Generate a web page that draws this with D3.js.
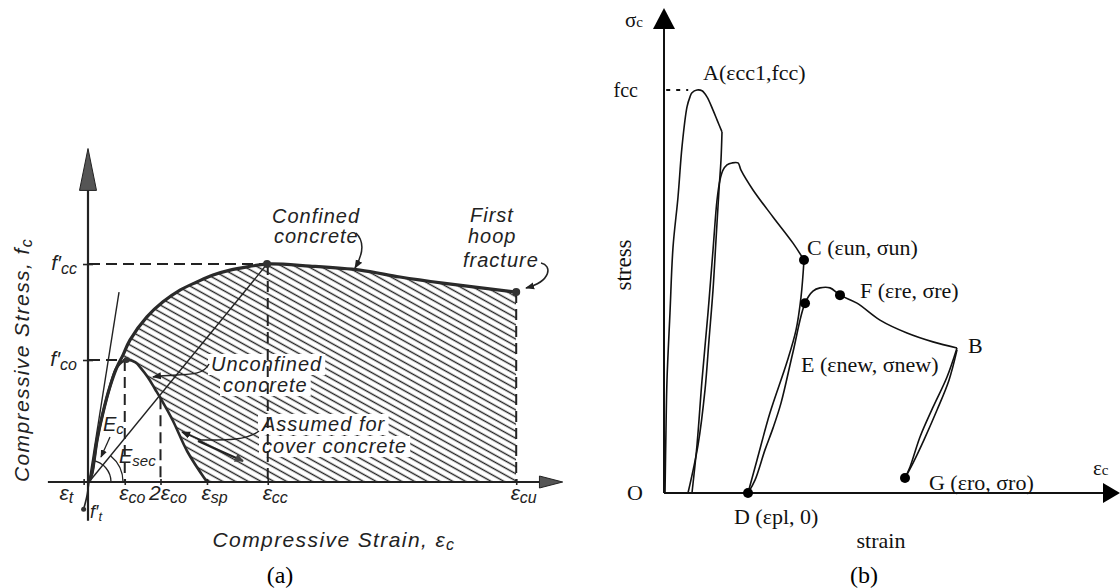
<!DOCTYPE html>
<html><head><meta charset="utf-8">
<script src="https://cdn.jsdelivr.net/npm/d3@7/dist/d3.min.js"></script>
<style>html,body{margin:0;padding:0;background:#fff}svg{display:block}</style>
</head><body>
<svg id="chart" width="1120" height="588"></svg>
<script>
// ================= Panel (a) data =================
const aTickLabels = ["ε_t", "ε_co", "2ε_co", "ε_sp", "ε_cc", "ε_cu"];
const aTickValues = [-0.0003, 0.002, 0.004, 0.0066, 0.01, 0.0239];
const aStressLabels = ["f′_cc", "f′_co"];
const aStressValues = [53.6, 30];

const confinedStrain = [0, 0.00017, 0.00045, 0.00078, 0.00117, 0.00157, 0.0019, 0.00229, 0.00324, 0.00414, 0.00509, 0.00604, 0.00694, 0.00789, 0.00884, 0.00996, 0.01236, 0.01516, 0.0174, 0.0198, 0.0239];
const confinedStress = [0, 2.2, 10.3, 17.0, 23.4, 28.3, 31.2, 34.9, 40.6, 44.3, 47.2, 49.2, 50.9, 52.1, 52.9, 53.6, 53.1, 52.1, 50.4, 48.9, 46.7];

const unconfinedStrain = [0, 0.00017, 0.00045, 0.00078, 0.00117, 0.00157, 0.0021, 0.0026, 0.0029, 0.0033, 0.0037, 0.0040, 0.0047, 0.0055, 0.0066];
const unconfinedStress = [0, 2.2, 10.3, 17.0, 23.4, 28.3, 30.0, 29.4, 28.0, 25.7, 22.8, 20.6, 15.0, 7.5, 0];

const ecLineStrain = [0, 0.00168];
const ecLineStress = [0, 46.7];
const secLineStrain = [0, 0.00996];
const secLineStress = [0, 53.6];
const tensileStrain = [0, -0.00012, -0.0003];
const tensileStress = [0, -3.5, -6.7];

// ================= Panel (b) data =================
const loadAStrain = [0.023, 0.045, 0.068, 0.136, 0.205, 0.318, 0.409, 0.523, 0.591, 0.636, 0.75, 0.864, 0.977, 1.114, 1.205, 1.318];
const loadAStress = [0, 15.6, 28.0, 44.7, 61.0, 73.4, 85.9, 95.8, 98.3, 99.3, 100, 99.8, 98.3, 95.0, 92.6, 89.6];
const unloadAStrain = [1.318, 1.295, 1.25, 1.182, 1.114, 1.023, 0.932, 0.773, 0.545];
const unloadAStress = [89.6, 82.6, 75.2, 62.8, 50.4, 38.0, 25.6, 11.9, 0];
const reload2Strain = [0.636, 0.75, 0.864, 1.0, 1.114, 1.205, 1.273, 1.341, 1.432, 1.545, 1.682, 1.75, 2.023, 2.477, 2.932, 3.182];
const reload2Stress = [0, 11.9, 28.0, 44.7, 60.3, 72.7, 77.7, 80.1, 81.4, 81.9, 81.9, 80.1, 75.2, 68.5, 62.0, 57.8];
const unloadCStrain = [3.182, 3.114, 3.0, 2.795, 2.409, 2.114, 1.909];
const unloadCStress = [57.8, 48.6, 40.4, 32.5, 19.9, 8.2, 0];
const reloadDStrain = [1.909, 2.068, 2.295, 2.477, 2.659, 2.932, 3.205, 3.386, 3.545, 3.773, 4.0, 4.386, 4.909, 5.523, 6.114, 6.659];
const reloadDStress = [0, 3.2, 10.7, 16.1, 22.3, 35.0, 47.1, 50.1, 50.9, 50.9, 49.1, 47.1, 42.9, 39.7, 37.5, 36.0];
const unloadBStrain = [6.659, 6.432, 6.114, 5.818, 5.591, 5.477];
const unloadBStress = [36.0, 28.8, 21.3, 13.9, 6.45, 3.72];
const reloadGStrain = [5.477, 5.659, 5.909, 6.205, 6.477, 6.659];
const reloadGStress = [3.72, 7.44, 13.2, 20.6, 28.0, 35.5];

const bPointNames = ["C", "D", "E", "F", "G"];
const bPointStrain = [3.182, 1.909, 3.205, 4.0, 5.477];
const bPointStress = [57.8, 0, 47.1, 49.1, 3.72];
const bPointLabels = ["C (εun, σun)", "D (εpl, 0)", "E (εnew, σnew)", "F (εre, σre)", "G (εro, σro)"];
const bPeakLabel = "A(εcc1,fcc)";
const bPeakStrain = 0.75, bPeakStress = 100;
const bStressTickLabels = ["fcc"];
const bStressTickValues = [100];

// ================= helpers =================
const INK = "#222";
const svg = d3.select("#chart");
const zip = (xs, ys) => xs.map((x, i) => [x, ys[i]]);
const SANS = "'Liberation Sans', Arial, sans-serif";
const SERIF = "'Liberation Serif', 'Times New Roman', serif";

function parts(str) {
  const out = [];
  const re = /_([^\s,]+)/g;
  let last = 0, m;
  while ((m = re.exec(str)) !== null) {
    if (m.index > last) out.push([str.slice(last, m.index), "n"]);
    out.push([m[1], "s"]);
    last = re.lastIndex;
  }
  if (last < str.length) out.push([str.slice(last), "n"]);
  return out;
}
function rich(sel, str, subSize, subDy) {
  sel.text(null);
  let prev = "n";
  parts(str).forEach(([t, k]) => {
    const ts = sel.append("tspan").text(t);
    if (k === "s") { ts.attr("font-size", subSize).attr("dy", prev === "s" ? 0 : subDy); }
    else if (prev === "s") { ts.attr("dy", -subDy); }
    prev = k;
  });
  return sel;
}

const defs = svg.append("defs");
const pat = defs.append("pattern").attr("id", "hatch").attr("patternUnits", "userSpaceOnUse")
  .attr("width", 12).attr("height", 6.2).attr("patternTransform", "rotate(29)");
pat.append("line").attr("x1", -1).attr("x2", 13).attr("y1", 3.1).attr("y2", 3.1)
  .attr("stroke", "#222").attr("stroke-width", 1.4);
defs.append("marker").attr("id", "ah").attr("viewBox", "0 0 10 10").attr("refX", 9).attr("refY", 5)
  .attr("markerWidth", 6).attr("markerHeight", 6).attr("orient", "auto")
  .append("path").attr("d", "M0,1 L10,5 L0,9 z").attr("fill", INK);
defs.append("marker").attr("id", "ahBig").attr("viewBox", "0 0 10 10").attr("refX", 9).attr("refY", 5)
  .attr("markerWidth", 5).attr("markerHeight", 4).attr("orient", "auto")
  .append("path").attr("d", "M0,0 L10,5 L0,10 z").attr("fill", "#444");

// ================= Panel (a) =================
const xA = d3.scaleLinear().domain([0, 0.024]).range([89, 518]);
const yA = d3.scaleLinear().domain([0, 60]).range([482, 238]);
const lineA = d3.line().x(d => xA(d[0])).y(d => yA(d[1])).curve(d3.curveCatmullRom.alpha(0.5));
const gA = svg.append("g");

defs.append("clipPath").attr("id", "confClip").append("path")
  .attr("d", d3.area().x(d => xA(d[0])).y0(yA(0)).y1(d => yA(d[1])).curve(d3.curveCatmullRom.alpha(0.5))(zip(confinedStrain, confinedStress)));
gA.append("rect").attr("x", xA(0)).attr("y", yA(60)).attr("width", xA(0.0239) - xA(0)).attr("height", yA(0) - yA(60))
  .attr("fill", "url(#hatch)").attr("clip-path", "url(#confClip)");
gA.append("path")
  .attr("d", d3.area().x(d => xA(d[0])).y0(yA(0)).y1(d => yA(d[1])).curve(d3.curveCatmullRom.alpha(0.5))(zip(unconfinedStrain, unconfinedStress)))
  .attr("fill", "#fff");

const annA = [
  { t: "Confined", x: 272, y: 223, box: false },
  { t: "concrete", x: 274, y: 243, box: false },
  { t: "First", x: 470, y: 222, box: false },
  { t: "hoop", x: 468, y: 243, box: false },
  { t: "fracture", x: 463, y: 267, box: false },
  { t: "Unconfined", x: 211, y: 371, box: true },
  { t: "concrete", x: 223, y: 392, box: true },
  { t: "Assumed for", x: 262, y: 431, box: true },
  { t: "cover concrete", x: 262, y: 453, box: true }
];
const boxLayer = gA.append("g");
annA.forEach(a => {
  const t = gA.append("text").attr("x", a.x).attr("y", a.y).text(a.t)
    .attr("font-family", SANS).attr("font-style", "italic").attr("font-size", 20)
    .attr("letter-spacing", 1).attr("fill", INK);
  if (a.box) {
    const b = t.node().getBBox();
    boxLayer.append("rect").attr("x", b.x - 3).attr("y", b.y + 1).attr("width", b.width + 6).attr("height", b.height - 1).attr("fill", "#fff");
  }
});

const dash = (x1, y1, x2, y2) => gA.append("line").attr("x1", xA(x1)).attr("y1", yA(y1)).attr("x2", xA(x2)).attr("y2", yA(y2))
  .attr("stroke", INK).attr("stroke-width", 2).attr("stroke-dasharray", "11,6");
dash(0, aStressValues[0], aTickValues[4], aStressValues[0]);
dash(aTickValues[4], aStressValues[0], aTickValues[4], 0);
dash(0, aStressValues[1], aTickValues[1], aStressValues[1]);
dash(aTickValues[1], aStressValues[1], aTickValues[1], 0);
dash(aTickValues[2], unconfinedStress[11], aTickValues[2], 0);
dash(aTickValues[5], confinedStress[confinedStress.length - 1], aTickValues[5], 0);

gA.append("path").attr("d", d3.line().x(d => xA(d[0])).y(d => yA(d[1]))(zip(ecLineStrain, ecLineStress)))
  .attr("stroke", INK).attr("stroke-width", 1.4).attr("fill", "none");
gA.append("path").attr("d", d3.line().x(d => xA(d[0])).y(d => yA(d[1]))(zip(secLineStrain, secLineStress)))
  .attr("stroke", INK).attr("stroke-width", 1.4).attr("fill", "none");

const o = [xA(0), yA(0)];
const angEc = Math.atan2(yA(0) - yA(ecLineStress[1]), xA(ecLineStrain[1]) - xA(0));
const angSec = Math.atan2(yA(0) - yA(secLineStress[1]), xA(secLineStrain[1]) - xA(0));
const arcPath = (r, a) => `M${o[0] + r},${o[1]} A${r},${r} 0 0 0 ${o[0] + r * Math.cos(a)},${o[1] - r * Math.sin(a)}`;
gA.append("path").attr("d", arcPath(22, angEc)).attr("stroke", INK).attr("stroke-width", 1.3).attr("fill", "none");
gA.append("path").attr("d", arcPath(34, angSec)).attr("stroke", INK).attr("stroke-width", 1.3).attr("fill", "none");

gA.append("path").attr("d", lineA(zip(unconfinedStrain, unconfinedStress)))
  .attr("stroke", "#2a2a2a").attr("stroke-width", 2.6).attr("fill", "none");
gA.append("path").attr("d", lineA(zip(confinedStrain, confinedStress)))
  .attr("stroke", "#2a2a2a").attr("stroke-width", 3.2).attr("fill", "none");
gA.append("path").attr("d", lineA(zip(tensileStrain, tensileStress)))
  .attr("stroke", INK).attr("stroke-width", 1.6).attr("fill", "none");

[[confinedStrain[15], confinedStress[15], 4], [confinedStrain[20], confinedStress[20], 4],
 [unconfinedStrain[6], unconfinedStress[6], 3], [tensileStrain[2], tensileStress[2], 2.5]].forEach(p =>
  gA.append("circle").attr("cx", xA(p[0])).attr("cy", yA(p[1])).attr("r", p[2]).attr("fill", "#333"));

gA.append("line").attr("x1", xA(-0.0023)).attr("x2", xA(0.0252)).attr("y1", yA(0)).attr("y2", yA(0))
  .attr("stroke", INK).attr("stroke-width", 2.2);
gA.append("path").attr("d", `M${xA(0.0265)},${yA(0)} L${xA(0.0252)},${yA(0) - 6} L${xA(0.0252)},${yA(0) + 6} Z`)
  .attr("fill", "#555").attr("stroke", INK).attr("stroke-width", 1);
gA.append("line").attr("x1", xA(0) - 1).attr("x2", xA(0) - 1).attr("y1", yA(-9.5)).attr("y2", yA(72))
  .attr("stroke", INK).attr("stroke-width", 2.2);
gA.append("path").attr("d", `M${xA(0) - 1},${yA(82)} L${xA(0) - 9.5},${yA(71.7)} L${xA(0) + 7.5},${yA(71.7)} Z`)
  .attr("fill", "#555").attr("stroke", INK).attr("stroke-width", 1);

const gxA = gA.append("g").attr("transform", `translate(0,${yA(0)})`)
  .call(d3.axisBottom(xA).tickValues(aTickValues).tickSize(3).tickFormat((d, i) => aTickLabels[i]));
gxA.select(".domain").remove();
gxA.selectAll(".tick line").attr("stroke", INK).attr("stroke-width", 1.6).attr("y1", -3).attr("y2", 3);
gxA.selectAll(".tick text").each(function (d, i) {
  const s = d3.select(this).attr("dy", null).attr("y", 18).attr("fill", INK)
    .attr("font-family", SANS).attr("font-style", "italic").attr("font-size", 21)
    .attr("text-anchor", i === 0 ? "end" : "middle").attr("x", i === 0 ? -11 : 7);
  rich(s, aTickLabels[i], 16, 3);
});

const gyA = gA.append("g").attr("transform", `translate(${xA(0) - 1},0)`)
  .call(d3.axisLeft(yA).tickValues(aStressValues).tickSize(5).tickFormat((d, i) => aStressLabels[i]));
gyA.select(".domain").remove();
gyA.selectAll(".tick line").attr("stroke", INK).attr("stroke-width", 1.6).attr("x1", 5).attr("x2", -5);
gyA.selectAll(".tick text").each(function (d, i) {
  const s = d3.select(this).attr("dy", null).attr("y", 5).attr("x", -11).attr("fill", INK)
    .attr("font-family", SANS).attr("font-style", "italic").attr("font-size", 21).attr("text-anchor", "end");
  rich(s, aStressLabels[i], 16, 4);
});

rich(gA.append("text").attr("x", 103).attr("y", 431).attr("font-family", SANS).attr("font-style", "italic")
  .attr("font-size", 20).attr("fill", INK), "E_c", 15, 3);
rich(gA.append("text").attr("x", 119).attr("y", 463).attr("font-family", SANS).attr("font-style", "italic")
  .attr("font-size", 20).attr("fill", INK), "E_sec", 15, 3);
rich(gA.append("text").attr("x", 90).attr("y", 518).attr("font-family", SANS).attr("font-style", "italic")
  .attr("font-size", 18).attr("fill", INK), "f′_t", 13, 3);

const leader = (d, w, mk) => gA.append("path").attr("d", d).attr("stroke", INK).attr("stroke-width", w || 1.5)
  .attr("fill", "none").attr("marker-end", `url(#${mk || "ah"})`);
leader("M356,233 C366,243 362,256 355,268");
leader("M541,263 C552,265 552,281 526,288");
leader("M209,364 C202,378 182,373 153,377");
leader("M259,431 C246,441 222,440 201,440 L182,432");
leader("M198,441 L243,461", 2.2, "ahBig");
leader("M110,437 L101,457", 1.3);

gA.append("text").attr("x", 334).attr("y", 547).attr("text-anchor", "middle").attr("font-family", SANS)
  .attr("font-style", "italic").attr("font-size", 21).attr("letter-spacing", 1.4).attr("fill", INK)
  .call(s => rich(s, "Compressive Strain, ε_c", 16, 3));
gA.append("text").attr("transform", "translate(29,360) rotate(-90)").attr("text-anchor", "middle").attr("font-family", SANS)
  .attr("font-style", "italic").attr("font-size", 21).attr("letter-spacing", 1.4).attr("fill", INK)
  .call(s => rich(s, "Compressive Stress, f_c", 16, 3));
gA.append("text").attr("x", 280).attr("y", 583).attr("text-anchor", "middle").attr("font-family", SERIF)
  .attr("font-size", 24).attr("fill", "#000").text("(a)");

// ================= Panel (b) =================
const xB = d3.scaleLinear().domain([0, 10]).range([664, 1104]);
const yB = d3.scaleLinear().domain([0, 100]).range([493, 90]);
const lineB = d3.line().x(d => xB(d[0])).y(d => yB(d[1])).curve(d3.curveCatmullRom.alpha(0.5));
const gB = svg.append("g");

[[loadAStrain, loadAStress], [unloadAStrain, unloadAStress], [reload2Strain, reload2Stress],
 [unloadCStrain, unloadCStress], [reloadDStrain, reloadDStress], [unloadBStrain, unloadBStress],
 [reloadGStrain, reloadGStress]].forEach(([xs, ys]) =>
  gB.append("path").attr("d", lineB(zip(xs, ys))).attr("stroke", "#111").attr("stroke-width", 1.6).attr("fill", "none"));

gB.append("line").attr("x1", xB(0.05)).attr("x2", xB(0.55)).attr("y1", yB(bPeakStress)).attr("y2", yB(bPeakStress))
  .attr("stroke", "#111").attr("stroke-width", 2).attr("stroke-dasharray", "4,6");

gB.append("line").attr("x1", xB(0)).attr("x2", xB(0)).attr("y1", yB(0)).attr("y2", 28).attr("stroke", "#111").attr("stroke-width", 2);
gB.append("path").attr("d", `M${xB(0)},8 L${xB(0) - 11},29 L${xB(0) + 11},29 Z`).attr("fill", "#000");
gB.append("line").attr("x1", xB(0)).attr("x2", 1104).attr("y1", yB(0)).attr("y2", yB(0)).attr("stroke", "#111").attr("stroke-width", 2);
gB.append("path").attr("d", `M1120,${yB(0)} L1103,${yB(0) - 10} L1103,${yB(0) + 10} Z`).attr("fill", "#000");

const gyB = gB.append("g").attr("transform", `translate(${xB(0)},0)`)
  .call(d3.axisLeft(yB).tickValues(bStressTickValues).tickSize(0).tickFormat((d, i) => bStressTickLabels[i]));
gyB.select(".domain").remove();
gyB.selectAll(".tick text").attr("x", -26).attr("dy", null).attr("y", 6).attr("font-family", SERIF)
  .attr("font-size", 20).attr("fill", "#111").attr("text-anchor", "end");

bPointNames.forEach((n, i) => gB.append("circle").attr("cx", xB(bPointStrain[i])).attr("cy", yB(bPointStress[i])).attr("r", 5).attr("fill", "#000"));

const tB = (x, y, s, size) => gB.append("text").attr("x", x).attr("y", y).attr("font-family", SERIF)
  .attr("font-size", size || 22).attr("fill", "#111").text(s);
const off = { C: [3, -5], D: [-14, 31], E: [-4, 69], F: [20, 3], G: [24, 12] };
bPointNames.forEach((n, i) => tB(xB(bPointStrain[i]) + off[n][0], yB(bPointStress[i]) + off[n][1], bPointLabels[i]));
tB(xB(bPeakStrain) + 6, yB(bPeakStress) - 10, bPeakLabel);
tB(xB(unloadBStrain[0]) + 11, yB(unloadBStress[0]) + 5, "B");
tB(xB(0) - 37, yB(0) + 7, "O");
tB(xB(0) - 39, 27, "σ", 21).append("tspan").attr("font-size", 15).text("c");
tB(1093, 475, "ε", 21).append("tspan").attr("font-size", 15).text("c");
tB(881, 548, "strain").attr("text-anchor", "middle");
gB.append("text").attr("transform", "translate(631,265) rotate(-90)").attr("text-anchor", "middle")
  .attr("font-family", SERIF).attr("font-size", 23).attr("fill", "#111").text("stress");
tB(864, 583, "(b)", 24).attr("text-anchor", "middle").attr("fill", "#000");
</script>
</body></html>
